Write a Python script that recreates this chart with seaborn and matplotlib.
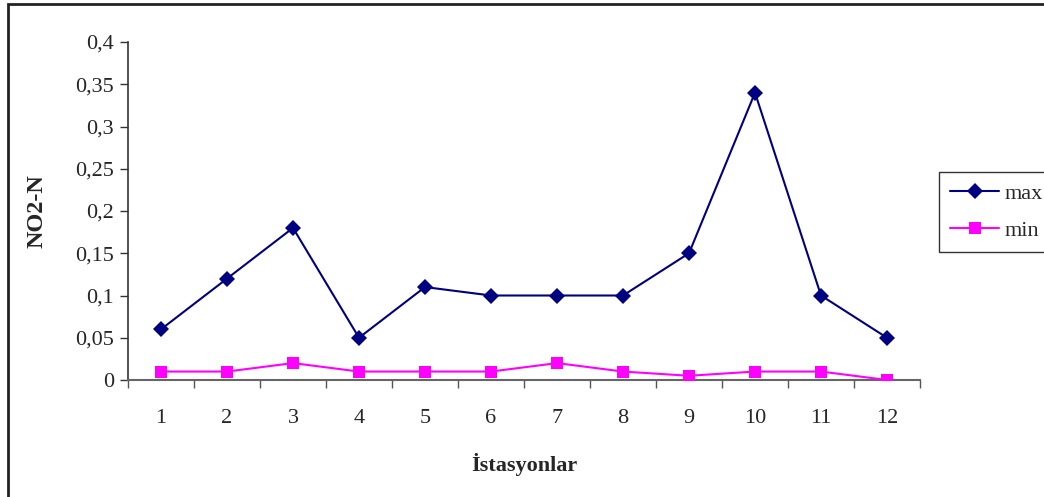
import matplotlib
matplotlib.use("Agg")
import matplotlib.pyplot as plt
from matplotlib.patches import Rectangle
from matplotlib.lines import Line2D
from matplotlib.ticker import FixedLocator
import seaborn as sns
import pandas as pd

stations = ["1", "2", "3", "4", "5", "6", "7", "8", "9", "10", "11", "12"]
no2_max = [0.06, 0.12, 0.18, 0.05, 0.11, 0.10, 0.10, 0.10, 0.15, 0.34, 0.10, 0.05]
no2_min = [0.01, 0.01, 0.02, 0.01, 0.01, 0.01, 0.02, 0.01, 0.005, 0.01, 0.01, 0.0]
y_ticks = [0, 0.05, 0.1, 0.15, 0.2, 0.25, 0.3, 0.35, 0.4]
y_labels = ["0", "0,05", "0,1", "0,15", "0,2", "0,25", "0,3", "0,35", "0,4"]

df = pd.DataFrame({
    "pos": list(range(len(stations))) * 2,
    "value": no2_max + no2_min,
    "series": ["max"] * len(stations) + ["min"] * len(stations),
})

sns.set_style("white")
plt.rcParams["font.family"] = ["Liberation Serif", "DejaVu Serif"]

fig = plt.figure(figsize=(10.44, 4.97), dpi=100)
W, H = 1044, 497
ax = fig.add_axes([128 / W, 1 - 380 / H, (920 - 128) / W, (380 - 42) / H])

palette = {"max": "#000080", "min": "#FF00FF"}
markers = {"max": "D", "min": "s"}
sns.lineplot(data=df, x="pos", y="value", hue="series", style="series",
             palette=palette, markers=markers, dashes=False, linewidth=1.5,
             markersize=8, markeredgewidth=0, ax=ax, legend=False, zorder=3)

ax.set_xlim(-0.5, len(stations) - 0.5)
ax.set_ylim(0, 0.4)

# category labels centred, tick marks on the boundaries
ax.xaxis.set_major_locator(FixedLocator(range(len(stations))))
ax.set_xticklabels(stations)
ax.xaxis.set_minor_locator(FixedLocator([i - 0.5 for i in range(len(stations) + 1)]))
ax.tick_params(axis="x", which="major", length=0, pad=21, labelsize=16)
ax.tick_params(axis="x", which="minor", length=6, width=1, direction="out",
               color="#555555", bottom=True)
ax.set_yticks(y_ticks)
ax.set_yticklabels(y_labels)
ax.tick_params(axis="y", length=6, width=1, direction="out", color="#333333",
               labelsize=16, pad=4, left=True)

for s in ["top", "right"]:
    ax.spines[s].set_visible(False)
ax.spines["left"].set_color("#333333")
ax.spines["bottom"].set_color("#666666")
ax.spines["left"].set_linewidth(1.2)
ax.spines["bottom"].set_linewidth(1.5)

ax.set_xlabel("İstasyonlar", fontsize=16, fontweight="bold", labelpad=18)
ax.set_ylabel("NO2-N", fontsize=17.5, fontweight="bold", labelpad=20)

handles = [Line2D([], [], color=palette[k], marker=markers[k], markersize=8,
                  markeredgewidth=0, linewidth=1.5) for k in ["max", "min"]]
leg = fig.legend(handles, ["max", "min"], loc="upper left",
                 bbox_to_anchor=(939 / W, 1 - 172 / H), fontsize=16,
                 frameon=True, fancybox=False, edgecolor="black",
                 handlelength=2.2, handletextpad=0.25, borderpad=0.5,
                 labelspacing=0.75, borderaxespad=0)
leg.get_frame().set_linewidth(1)

# outer border of the chart area
fig.patches.append(Rectangle((7.5 / W, -0.01), 1.0, 1 - 3.5 / H + 0.01,
                             transform=fig.transFigure, fill=False,
                             edgecolor="#222222", linewidth=2))

fig.savefig("out.png", dpi=100)
